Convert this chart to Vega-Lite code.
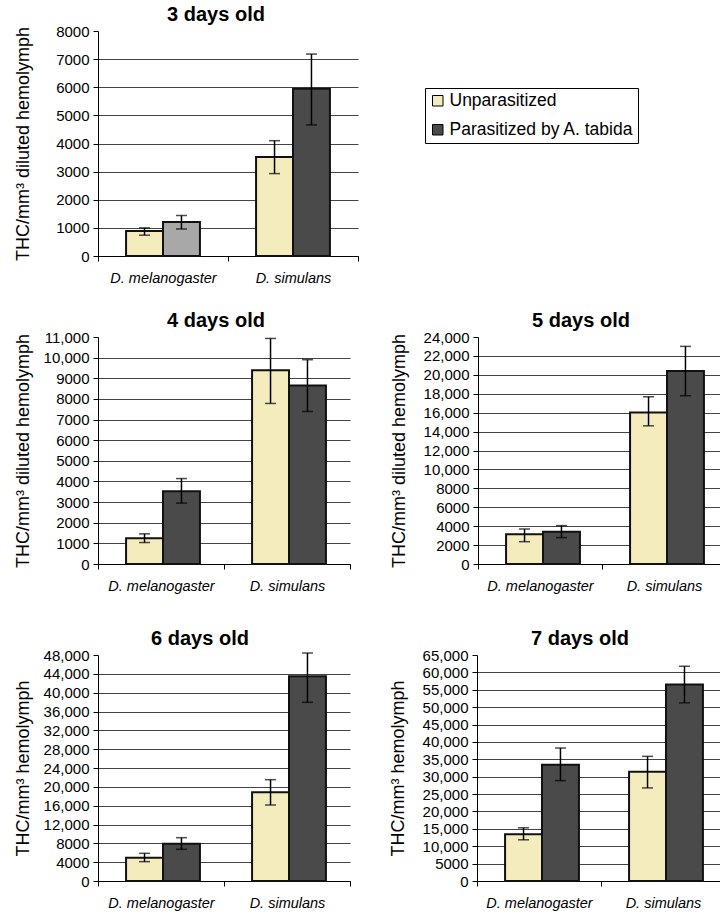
{
  "$schema": "https://vega.github.io/schema/vega-lite/v6.json",
  "padding": {"left": 13, "top": 5, "right": 0, "bottom": 0},
  "background": "white",
  "datasets": {
    "thc": [
      {"age": "3 days old", "species": "D. melanogaster", "group": "Unparasitized", "value": 890, "lo": 740, "hi": 1000},
      {"age": "3 days old", "species": "D. melanogaster", "group": "Parasitized by A. tabida", "value": 1210, "lo": 960, "hi": 1440},
      {"age": "3 days old", "species": "D. simulans", "group": "Unparasitized", "value": 3520, "lo": 2930, "hi": 4100},
      {"age": "3 days old", "species": "D. simulans", "group": "Parasitized by A. tabida", "value": 5950, "lo": 4660, "hi": 7180},
      {"age": "4 days old", "species": "D. melanogaster", "group": "Unparasitized", "value": 1250, "lo": 1040, "hi": 1460},
      {"age": "4 days old", "species": "D. melanogaster", "group": "Parasitized by A. tabida", "value": 3530, "lo": 2950, "hi": 4140},
      {"age": "4 days old", "species": "D. simulans", "group": "Unparasitized", "value": 9390, "lo": 7780, "hi": 10930},
      {"age": "4 days old", "species": "D. simulans", "group": "Parasitized by A. tabida", "value": 8650, "lo": 7390, "hi": 9900},
      {"age": "5 days old", "species": "D. melanogaster", "group": "Unparasitized", "value": 3140, "lo": 2360, "hi": 3700},
      {"age": "5 days old", "species": "D. melanogaster", "group": "Parasitized by A. tabida", "value": 3420, "lo": 2790, "hi": 4060},
      {"age": "5 days old", "species": "D. simulans", "group": "Unparasitized", "value": 16020, "lo": 14610, "hi": 17680},
      {"age": "5 days old", "species": "D. simulans", "group": "Parasitized by A. tabida", "value": 20400, "lo": 17790, "hi": 23010},
      {"age": "6 days old", "species": "D. melanogaster", "group": "Unparasitized", "value": 4960, "lo": 4110, "hi": 5880},
      {"age": "6 days old", "species": "D. melanogaster", "group": "Parasitized by A. tabida", "value": 7930, "lo": 6730, "hi": 9200},
      {"age": "6 days old", "species": "D. simulans", "group": "Unparasitized", "value": 18830, "lo": 16140, "hi": 21520},
      {"age": "6 days old", "species": "D. simulans", "group": "Parasitized by A. tabida", "value": 43470, "lo": 37950, "hi": 48420},
      {"age": "7 days old", "species": "D. melanogaster", "group": "Unparasitized", "value": 13480, "lo": 11850, "hi": 15300},
      {"age": "7 days old", "species": "D. melanogaster", "group": "Parasitized by A. tabida", "value": 33460, "lo": 28870, "hi": 38240},
      {"age": "7 days old", "species": "D. simulans", "group": "Unparasitized", "value": 31450, "lo": 26770, "hi": 35850},
      {"age": "7 days old", "species": "D. simulans", "group": "Parasitized by A. tabida", "value": 56500, "lo": 51240, "hi": 61760}
    ]
  },
  "config": {
    "font": "Liberation Sans",
    "view": {"stroke": null},
    "axis": {
      "labelFont": "Liberation Sans", "titleFont": "Liberation Sans",
      "labelColor": "black", "titleColor": "black",
      "domainColor": "black", "tickColor": "black",
      "labelFontSize": 15, "titleFontSize": 18, "titleFontWeight": "normal"
    },
    "axisY": {"tickSize": 5, "labelPadding": 4, "tickCount": 30, "labelOverlap": false, "gridColor": "#444444", "gridWidth": 1, "minExtent": 60, "maxExtent": 60, "titlePadding": 6},
    "axisX": {"tickSize": 5, "labelPadding": 10, "labelFontStyle": "italic", "labelFontSize": 14.5, "tickBand": "extent", "labelAngle": 0, "grid": false, "title": null, "minExtent": 30, "maxExtent": 30},
    "title": {"font": "Liberation Sans", "fontSize": 20, "fontWeight": "bold", "color": "black", "offset": -1, "anchor": "middle"},
    "legend": {
      "orient": "none", "legendX": 327, "legendY": 57,
      "strokeColor": "black", "strokeWidth": 1, "padding": 4,
      "symbolType": "square", "symbolSize": 110, "symbolStrokeColor": "black", "symbolStrokeWidth": 1,
      "labelFont": "Liberation Sans", "labelFontSize": 17.5, "labelColor": "black", "labelLimit": 300,
      "labelOffset": 3, "rowPadding": 10
    }
  },
  "resolve": {"scale": {"color": "shared"}, "legend": {"color": "shared"}},
  "spacing": 25,
  "vconcat": [
    {
      "title": {"text": "3 days old", "dx": -12},
      "width": 260, "height": 225,
      "data": {"name": "thc"},
      "transform": [{"filter": "datum.age === '3 days old'"}],
      "encoding": {
        "x": {"field": "species", "type": "nominal", "sort": ["D. melanogaster", "D. simulans"], "scale": {"paddingInner": 0, "paddingOuter": 0}},
        "xOffset": {"field": "group", "type": "nominal", "sort": ["Unparasitized", "Parasitized by A. tabida"], "scale": {"paddingInner": 0, "paddingOuter": 0.76}}
      },
      "layer": [
        {
          "mark": {"type": "bar", "stroke": "#111111", "strokeWidth": 2},
          "encoding": {
            "y": {"field": "value", "type": "quantitative", "title": "THC/mm³ diluted hemolymph", "scale": {"domain": [0, 8000], "nice": false},
              "axis": {"values": [0, 1000, 2000, 3000, 4000, 5000, 6000, 7000, 8000],
                "labelExpr": "datum.value >= 10000 ? format(datum.value, ',') : format(datum.value, 'd')",
                "gridOpacity": {"condition": {"test": "datum.value >= 8000", "value": 0}, "value": 1}}},
            "color": {
              "condition": {"test": "datum.species === 'D. melanogaster' && datum.group === 'Parasitized by A. tabida'", "value": "#a8a8a8"},
              "field": "group", "type": "nominal", "title": null,
              "scale": {"domain": ["Unparasitized", "Parasitized by A. tabida"], "range": ["#f5ecbd", "#4a4a4a"]}
            }
          }
        },
        {"mark": {"type": "rule", "color": "black", "strokeWidth": 1.5},
         "encoding": {"y": {"field": "lo", "type": "quantitative", "title": "THC/mm³ diluted hemolymph"}, "y2": {"field": "hi"}}},
        {"mark": {"type": "tick", "color": "black", "size": 11, "thickness": 1.5},
         "encoding": {"y": {"field": "lo", "type": "quantitative", "title": "THC/mm³ diluted hemolymph"}}},
        {"mark": {"type": "tick", "color": "black", "size": 11, "thickness": 1.5},
         "encoding": {"y": {"field": "hi", "type": "quantitative", "title": "THC/mm³ diluted hemolymph"}}}
      ]
    },
    {
      "spacing": 38,
      "hconcat": [
        {
          "title": {"text": "4 days old", "dx": -8},
          "width": 252, "height": 227,
          "data": {"name": "thc"},
          "transform": [{"filter": "datum.age === '4 days old'"}],
          "encoding": {
            "x": {"field": "species", "type": "nominal", "sort": ["D. melanogaster", "D. simulans"], "scale": {"paddingInner": 0, "paddingOuter": 0}, "axis": {"minExtent": 40, "maxExtent": 40}},
            "xOffset": {"field": "group", "type": "nominal", "sort": ["Unparasitized", "Parasitized by A. tabida"], "scale": {"paddingInner": 0, "paddingOuter": 0.76}}
          },
          "layer": [
            {
              "mark": {"type": "bar", "stroke": "#111111", "strokeWidth": 2},
              "encoding": {
                "y": {"field": "value", "type": "quantitative", "title": "THC/mm³ diluted hemolymph", "scale": {"domain": [0, 11000], "nice": false},
                  "axis": {"values": [0, 1000, 2000, 3000, 4000, 5000, 6000, 7000, 8000, 9000, 10000, 11000],
                    "labelExpr": "datum.value >= 10000 ? format(datum.value, ',') : format(datum.value, 'd')",
                    "gridOpacity": {"condition": {"test": "datum.value >= 11000", "value": 0}, "value": 1}}},
                "color": {"field": "group", "type": "nominal", "title": null,
                  "scale": {"domain": ["Unparasitized", "Parasitized by A. tabida"], "range": ["#f5ecbd", "#4a4a4a"]}}
              }
            },
            {"mark": {"type": "rule", "color": "black", "strokeWidth": 1.5},
             "encoding": {"y": {"field": "lo", "type": "quantitative", "title": "THC/mm³ diluted hemolymph"}, "y2": {"field": "hi"}}},
            {"mark": {"type": "tick", "color": "black", "size": 11, "thickness": 1.5},
             "encoding": {"y": {"field": "lo", "type": "quantitative", "title": "THC/mm³ diluted hemolymph"}}},
            {"mark": {"type": "tick", "color": "black", "size": 11, "thickness": 1.5},
             "encoding": {"y": {"field": "hi", "type": "quantitative", "title": "THC/mm³ diluted hemolymph"}}}
          ]
        },
        {
          "title": {"text": "5 days old", "dx": -21},
          "width": 248, "height": 227,
          "data": {"name": "thc"},
          "transform": [{"filter": "datum.age === '5 days old'"}],
          "encoding": {
            "x": {"field": "species", "type": "nominal", "sort": ["D. melanogaster", "D. simulans"], "scale": {"paddingInner": 0, "paddingOuter": 0}, "axis": {"minExtent": 40, "maxExtent": 40}},
            "xOffset": {"field": "group", "type": "nominal", "sort": ["Unparasitized", "Parasitized by A. tabida"], "scale": {"paddingInner": 0, "paddingOuter": 0.76}}
          },
          "layer": [
            {
              "mark": {"type": "bar", "stroke": "#111111", "strokeWidth": 2},
              "encoding": {
                "y": {"field": "value", "type": "quantitative", "title": "THC/mm³ diluted hemolymph", "scale": {"domain": [0, 24000], "nice": false},
                  "axis": {"titlePadding": 10, "values": [0, 2000, 4000, 6000, 8000, 10000, 12000, 14000, 16000, 18000, 20000, 22000, 24000],
                    "labelExpr": "datum.value >= 10000 ? format(datum.value, ',') : format(datum.value, 'd')",
                    "gridOpacity": {"condition": {"test": "datum.value >= 24000", "value": 0}, "value": 1}}},
                "color": {"field": "group", "type": "nominal", "title": null,
                  "scale": {"domain": ["Unparasitized", "Parasitized by A. tabida"], "range": ["#f5ecbd", "#4a4a4a"]}}
              }
            },
            {"mark": {"type": "rule", "color": "black", "strokeWidth": 1.5},
             "encoding": {"y": {"field": "lo", "type": "quantitative", "title": "THC/mm³ diluted hemolymph"}, "y2": {"field": "hi"}}},
            {"mark": {"type": "tick", "color": "black", "size": 11, "thickness": 1.5},
             "encoding": {"y": {"field": "lo", "type": "quantitative", "title": "THC/mm³ diluted hemolymph"}}},
            {"mark": {"type": "tick", "color": "black", "size": 11, "thickness": 1.5},
             "encoding": {"y": {"field": "hi", "type": "quantitative", "title": "THC/mm³ diluted hemolymph"}}}
          ]
        }
      ]
    },
    {
      "spacing": 38,
      "hconcat": [
        {
          "title": {"text": "6 days old", "dx": -24},
          "width": 252, "height": 226,
          "data": {"name": "thc"},
          "transform": [{"filter": "datum.age === '6 days old'"}],
          "encoding": {
            "x": {"field": "species", "type": "nominal", "sort": ["D. melanogaster", "D. simulans"], "scale": {"paddingInner": 0, "paddingOuter": 0}},
            "xOffset": {"field": "group", "type": "nominal", "sort": ["Unparasitized", "Parasitized by A. tabida"], "scale": {"paddingInner": 0, "paddingOuter": 0.76}}
          },
          "layer": [
            {
              "mark": {"type": "bar", "stroke": "#111111", "strokeWidth": 2},
              "encoding": {
                "y": {"field": "value", "type": "quantitative", "title": "THC/mm³ hemolymph", "scale": {"domain": [0, 48000], "nice": false},
                  "axis": {"values": [0, 4000, 8000, 12000, 16000, 20000, 24000, 28000, 32000, 36000, 40000, 44000, 48000],
                    "labelExpr": "datum.value >= 10000 ? format(datum.value, ',') : format(datum.value, 'd')",
                    "gridOpacity": {"condition": {"test": "datum.value >= 48000", "value": 0}, "value": 1}}},
                "color": {"field": "group", "type": "nominal", "title": null,
                  "scale": {"domain": ["Unparasitized", "Parasitized by A. tabida"], "range": ["#f5ecbd", "#4a4a4a"]}}
              }
            },
            {"mark": {"type": "rule", "color": "black", "strokeWidth": 1.5},
             "encoding": {"y": {"field": "lo", "type": "quantitative", "title": "THC/mm³ hemolymph"}, "y2": {"field": "hi"}}},
            {"mark": {"type": "tick", "color": "black", "size": 11, "thickness": 1.5},
             "encoding": {"y": {"field": "lo", "type": "quantitative", "title": "THC/mm³ hemolymph"}}},
            {"mark": {"type": "tick", "color": "black", "size": 11, "thickness": 1.5},
             "encoding": {"y": {"field": "hi", "type": "quantitative", "title": "THC/mm³ hemolymph"}}}
          ]
        },
        {
          "title": {"text": "7 days old", "dx": -21},
          "width": 248, "height": 226,
          "data": {"name": "thc"},
          "transform": [{"filter": "datum.age === '7 days old'"}],
          "encoding": {
            "x": {"field": "species", "type": "nominal", "sort": ["D. melanogaster", "D. simulans"], "scale": {"paddingInner": 0, "paddingOuter": 0}},
            "xOffset": {"field": "group", "type": "nominal", "sort": ["Unparasitized", "Parasitized by A. tabida"], "scale": {"paddingInner": 0, "paddingOuter": 0.76}}
          },
          "layer": [
            {
              "mark": {"type": "bar", "stroke": "#111111", "strokeWidth": 2},
              "encoding": {
                "y": {"field": "value", "type": "quantitative", "title": "THC/mm³ hemolymph", "scale": {"domain": [0, 65000], "nice": false},
                  "axis": {"titlePadding": 10, "values": [0, 5000, 10000, 15000, 20000, 25000, 30000, 35000, 40000, 45000, 50000, 55000, 60000, 65000],
                    "labelExpr": "datum.value >= 10000 ? format(datum.value, ',') : format(datum.value, 'd')",
                    "gridOpacity": {"condition": {"test": "datum.value >= 65000", "value": 0}, "value": 1}}},
                "color": {"field": "group", "type": "nominal", "title": null,
                  "scale": {"domain": ["Unparasitized", "Parasitized by A. tabida"], "range": ["#f5ecbd", "#4a4a4a"]}}
              }
            },
            {"mark": {"type": "rule", "color": "black", "strokeWidth": 1.5},
             "encoding": {"y": {"field": "lo", "type": "quantitative", "title": "THC/mm³ hemolymph"}, "y2": {"field": "hi"}}},
            {"mark": {"type": "tick", "color": "black", "size": 11, "thickness": 1.5},
             "encoding": {"y": {"field": "lo", "type": "quantitative", "title": "THC/mm³ hemolymph"}}},
            {"mark": {"type": "tick", "color": "black", "size": 11, "thickness": 1.5},
             "encoding": {"y": {"field": "hi", "type": "quantitative", "title": "THC/mm³ hemolymph"}}}
          ]
        }
      ]
    }
  ]
}
